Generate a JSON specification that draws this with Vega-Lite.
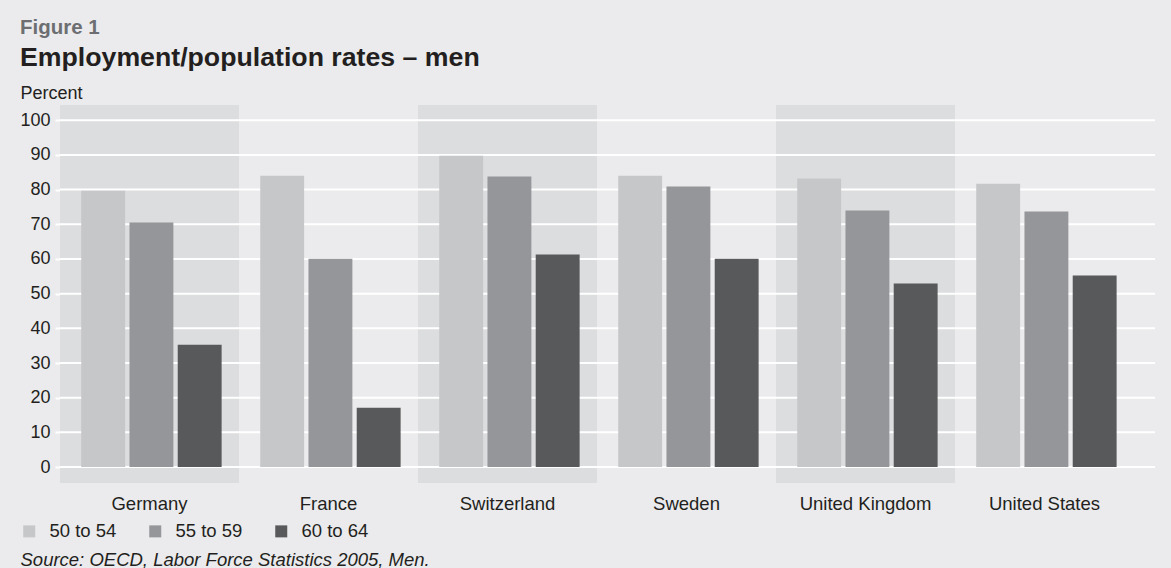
{
  "$schema": "https://vega.github.io/schema/vega-lite/v6.json",
  "width": 1095,
  "height": 378,
  "autosize": {"type": "none"},
  "padding": {"left": 60, "top": 105, "right": 16, "bottom": 85},
  "background": "#ebebed",
  "config": {
    "font": "Liberation Sans",
    "view": {"stroke": null},
    "text": {"font": "Liberation Sans"},
    "axisY": {
      "labelOverlap": false,
      "titleAngle": 0,
      "titleAlign": "left",
      "titleBaseline": "alphabetic",
      "titleX": -40,
      "titleY": -7,
      "titleFontSize": 18,
      "titleFontWeight": "normal",
      "titleColor": "#231f20",
      "labelFontSize": 18,
      "labelColor": "#231f20",
      "labelPadding": 5,
      "tickColor": "#ffffff",
      "tickWidth": 2,
      "tickSize": 5,
      "domain": false,
      "grid": false
    }
  },
  "title": {
    "text": "Figure 1",
    "subtitle": "Employment/population rates – men",
    "anchor": "start",
    "frame": "group",
    "dx": -40,
    "offset": 12,
    "font": "Liberation Sans",
    "fontSize": 20.5,
    "fontWeight": "bold",
    "color": "#6d6e71",
    "subtitleFont": "Liberation Sans",
    "subtitleFontSize": 26.7,
    "subtitleFontWeight": "bold",
    "subtitleColor": "#231f20",
    "subtitlePadding": 7
  },
  "datasets": {
    "bands": [
      {"country": "Germany"},
      {"country": "Switzerland"},
      {"country": "United Kingdom"}
    ],
    "grid": [
      {"v": 0}, {"v": 10}, {"v": 20}, {"v": 30}, {"v": 40}, {"v": 50},
      {"v": 60}, {"v": 70}, {"v": 80}, {"v": 90}, {"v": 100}
    ],
    "rates": [
      {"country": "Germany", "age": "50 to 54", "rate": 79.7},
      {"country": "Germany", "age": "55 to 59", "rate": 70.5},
      {"country": "Germany", "age": "60 to 64", "rate": 35.3},
      {"country": "France", "age": "50 to 54", "rate": 84.0},
      {"country": "France", "age": "55 to 59", "rate": 60.1},
      {"country": "France", "age": "60 to 64", "rate": 17.1},
      {"country": "Switzerland", "age": "50 to 54", "rate": 89.8},
      {"country": "Switzerland", "age": "55 to 59", "rate": 83.8},
      {"country": "Switzerland", "age": "60 to 64", "rate": 61.3},
      {"country": "Sweden", "age": "50 to 54", "rate": 84.0},
      {"country": "Sweden", "age": "55 to 59", "rate": 80.9},
      {"country": "Sweden", "age": "60 to 64", "rate": 60.1},
      {"country": "United Kingdom", "age": "50 to 54", "rate": 83.2},
      {"country": "United Kingdom", "age": "55 to 59", "rate": 74.0},
      {"country": "United Kingdom", "age": "60 to 64", "rate": 52.9},
      {"country": "United States", "age": "50 to 54", "rate": 81.7},
      {"country": "United States", "age": "55 to 59", "rate": 73.7},
      {"country": "United States", "age": "60 to 64", "rate": 55.2}
    ]
  },
  "encoding": {
    "x": {
      "field": "country",
      "type": "nominal",
      "sort": null,
      "scale": {
        "domain": ["Germany", "France", "Switzerland", "Sweden", "United Kingdom", "United States"],
        "paddingInner": 0,
        "paddingOuter": 0.0587,
        "align": 0
      },
      "axis": {
        "title": "Source: OECD, Labor Force Statistics 2005, Men.",
        "titleX": -40,
        "titleY": 82,
        "titleAlign": "left",
        "titleAnchor": "start",
        "titleBaseline": "alphabetic",
        "titleFontStyle": "italic",
        "titleFontWeight": "normal",
        "titleFontSize": 18.5,
        "titleColor": "#231f20",
        "labelAngle": 0,
        "labelFontSize": 18.5,
        "labelColor": "#231f20",
        "labelPadding": 11,
        "labelBaseline": "top",
        "ticks": false,
        "domain": false,
        "grid": false
      }
    }
  },
  "layer": [
    {
      "data": {"name": "bands"},
      "mark": {"type": "rect", "color": "#dcdddf"},
      "encoding": {
        "y": {
          "datum": 104.4,
          "type": "quantitative",
          "scale": {"domain": [-4.6, 104.4], "nice": false, "zero": false},
          "axis": {"values": [0, 10, 20, 30, 40, 50, 60, 70, 80, 90, 100], "title": "Percent"}
        },
        "y2": {"datum": -4.6}
      }
    },
    {
      "data": {"name": "grid"},
      "mark": {"type": "rule", "color": "#ffffff", "strokeWidth": 2},
      "encoding": {
        "x": null,
        "y": {
          "field": "v",
          "type": "quantitative",
          "axis": {"values": [0, 10, 20, 30, 40, 50, 60, 70, 80, 90, 100], "title": "Percent"}
        }
      }
    },
    {
      "data": {"name": "rates"},
      "mark": {"type": "bar"},
      "encoding": {
        "xOffset": {
          "field": "age",
          "type": "nominal",
          "scale": {"paddingInner": 0.09, "paddingOuter": 0.4, "align": 0.55}
        },
        "y": {
          "field": "rate",
          "type": "quantitative",
          "stack": null,
          "axis": {"values": [0, 10, 20, 30, 40, 50, 60, 70, 80, 90, 100], "title": "Percent"}
        },
        "y2": {"datum": 0},
        "color": {
          "field": "age",
          "type": "nominal",
          "scale": {
            "domain": ["50 to 54", "55 to 59", "60 to 64"],
            "range": ["#c6c7c9", "#959699", "#58595b"]
          },
          "legend": {
            "orient": "none",
            "legendX": -40,
            "legendY": 417,
            "direction": "horizontal",
            "title": null,
            "symbolType": "square",
            "symbolSize": 144,
            "symbolStrokeWidth": 0,
            "symbolOpacity": 1,
            "labelFontSize": 18.5,
            "labelColor": "#231f20",
            "labelOffset": 11,
            "columnPadding": 29
          }
        }
      }
    }
  ]
}
